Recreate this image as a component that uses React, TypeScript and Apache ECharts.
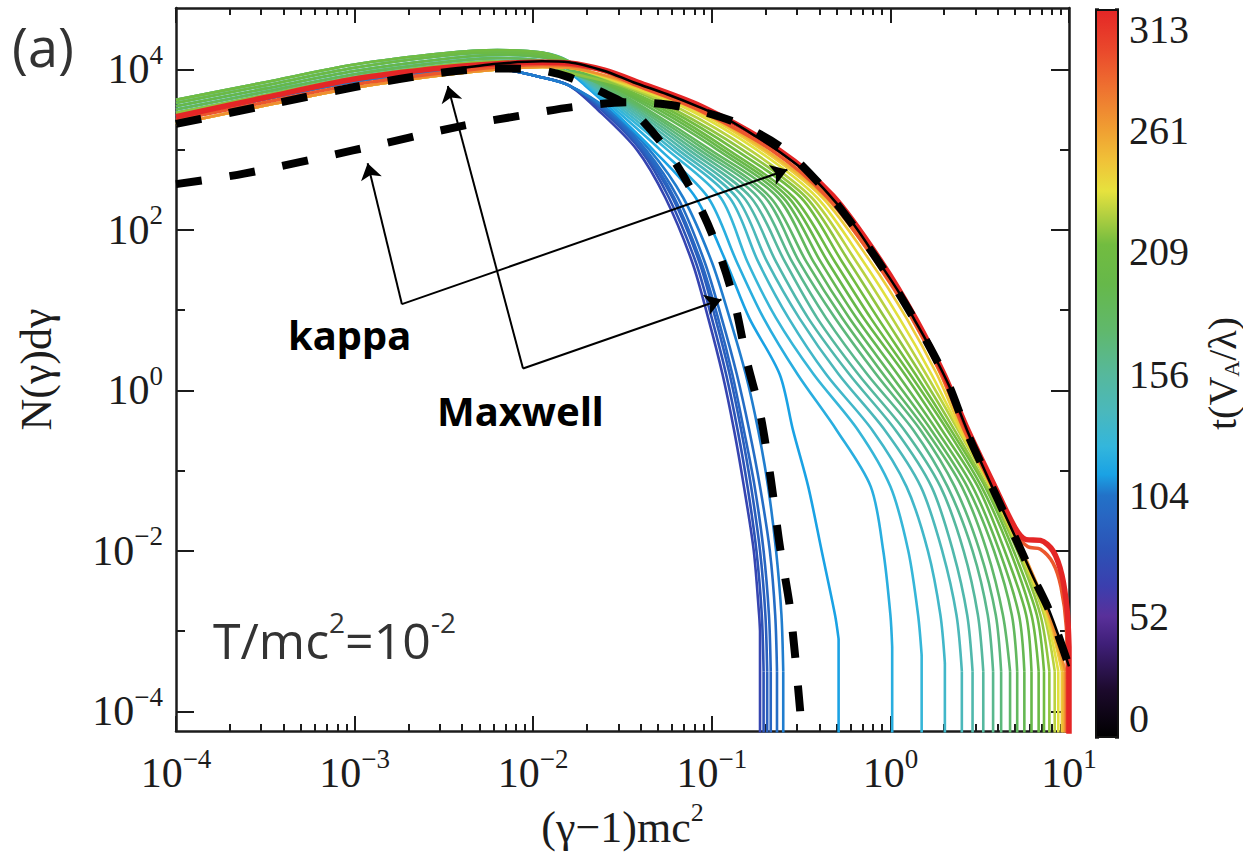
import React, { useEffect, useRef } from "react";
import * as echarts from "echarts";

// ---------- axes ----------
const X_MIN = 1e-4;
const X_MAX = 10;
const Y_MIN = 5.66e-5;
const Y_MAX = 5.82e4;
const X_DECADES = [1e-4, 1e-3, 1e-2, 1e-1, 1, 10];
const Y_LABELED = [1e-4, 1e-2, 1, 1e2, 1e4];
const Y_ODD = [1e-3, 1e-1, 10, 1e3];
const CB_MAX = 313;
const CB_LABELS = [0, 52, 104, 156, 209, 261, 313];
const CB_TICKS = [0, 26, 52, 78, 104, 130, 156, 183, 209, 235, 261, 287, 313];

// colour table of the colour bar: [t, colour]
const CMAP: [number, string][] = [
  [0, "#000000"], [20, "#1c0a2c"], [40, "#3f1f78"], [52, "#59309a"], [65, "#3b3fae"],
  [80, "#2c52b6"], [95, "#2866c2"], [104, "#2272c8"], [113, "#1aa2e4"], [125, "#33b6dc"],
  [140, "#4ab8bc"], [156, "#56b89c"], [175, "#60b86c"], [195, "#66b84a"], [212, "#72bc40"],
  [225, "#b4d040"], [235, "#e6e23e"], [248, "#f0c238"], [261, "#f0a032"], [280, "#ee7030"],
  [295, "#ea4a2c"], [313, "#e42626"],
];

// ---------- data (log10 values) ----------
// low-energy part: log10 x positions and log10 N for each group of curves
const HEAD_LX = [-4, -3.5, -3, -2.5, -2.2, -1.95, -1.8];
const H_BLUE = [3.41, 3.63, 3.85, 3.98, 4.0, 3.9, 3.8];
const H_G1 = [3.46, 3.68, 3.9, 4.05, 4.1, 4.07, 3.96];
const H_G2 = [3.5, 3.72, 3.94, 4.09, 4.14, 4.11, 4.0];
const H_G3 = [3.54, 3.76, 3.98, 4.13, 4.18, 4.15, 4.04];
const H_G4 = [3.58, 3.8, 4.02, 4.17, 4.21, 4.18, 4.07];
const H_G5 = [3.62, 3.84, 4.06, 4.2, 4.24, 4.21, 4.1];
const H_YELLOW = [3.32, 3.55, 3.77, 3.93, 4.0, 4.03, 4.02];
const H_ORANGE = [3.37, 3.59, 3.81, 3.96, 4.03, 4.06, 4.05];
const H_RED = [3.41, 3.65, 3.88, 4.02, 4.07, 4.09, 4.08];

// tail: log10 x of each curve where it crosses these log10 N levels
const LEVELS = [3.8, 3.5, 3.0, 2.4, 1.6, 0.9, 0.2, -0.5, -1.2, -2.0, -2.8, -3.5];
const TAIL_B1 = [null, -1.64, -1.42, -1.26, -1.11, -1.02, -0.94, -0.875, -0.82, -0.765, -0.735, null];
const TAIL_B2 = [null, -1.62, -1.4, -1.24, -1.09, -1.0, -0.92, -0.855, -0.8, -0.75, -0.72, -0.71];
const TAIL_B3 = [null, -1.61, -1.39, -1.22, -1.07, -0.98, -0.9, -0.835, -0.78, -0.73, -0.7, -0.69];
const TAIL_B4 = [null, -1.6, -1.38, -1.21, -1.06, -0.965, -0.885, -0.82, -0.76, -0.71, -0.68, -0.67];
const TAIL_B5 = [null, -1.59, -1.37, -1.19, -1.04, -0.945, -0.86, -0.79, -0.73, -0.675, -0.645, -0.635];
const TAIL_B6 = [null, -1.58, -1.35, -1.16, -1.0, -0.9, -0.81, -0.74, -0.685, -0.64, -0.61, -0.6];
const TAIL_L1 = [-1.71, -1.56, -1.33, -1.09, -0.92, -0.79, -0.62, -0.545, -0.46, -0.385, -0.31, null];
const TAIL_L2 = [-1.7, -1.54, -1.29, -1.02, -0.86, -0.71, -0.52, -0.3, -0.11, -0.04, 0.0, null];
const TAIL_L3 = [-1.69, -1.52, -1.25, -0.95, -0.8, -0.64, -0.43, -0.18, 0.0, 0.1, 0.155, null];
const TAIL_L4 = [-1.68, -1.5, -1.22, -0.9, -0.74, -0.57, -0.36, -0.1, 0.09, 0.21, 0.28, null];
const TAIL_L5 = [-1.67, -1.48, -1.19, -0.86, -0.69, -0.51, -0.29, -0.03, 0.17, 0.29, 0.37, 0.4];
const TAIL_L6 = [-1.66, -1.46, -1.16, -0.82, -0.64, -0.46, -0.23, 0.03, 0.23, 0.35, 0.43, 0.46];
const TAIL_L7 = [-1.65, -1.44, -1.13, -0.78, -0.59, -0.41, -0.18, 0.08, 0.28, 0.41, 0.49, 0.52];
const TAIL_L8 = [-1.63, -1.42, -1.1, -0.74, -0.55, -0.36, -0.13, 0.13, 0.32, 0.46, 0.545, 0.575];
const TAIL_L9 = [-1.62, -1.4, -1.07, -0.7, -0.51, -0.31, -0.08, 0.17, 0.36, 0.5, 0.59, 0.62];
const TAIL_L10 = [-1.61, -1.38, -1.04, -0.67, -0.47, -0.27, -0.04, 0.2, 0.4, 0.54, 0.63, 0.67];
const TAIL_L11 = [-1.6, -1.36, -1.01, -0.63, -0.43, -0.23, 0.0, 0.23, 0.43, 0.58, 0.68, 0.71];
const TAIL_L12 = [-1.58, -1.33, -0.97, -0.6, -0.39, -0.19, 0.04, 0.26, 0.46, 0.61, 0.72, 0.75];
const TAIL_L13 = [-1.57, -1.3, -0.94, -0.57, -0.35, -0.15, 0.08, 0.29, 0.49, 0.64, 0.76, 0.79];
const TAIL_L14 = [-1.55, -1.27, -0.91, -0.54, -0.31, -0.11, 0.11, 0.32, 0.51, 0.67, 0.79, 0.83];
const TAIL_L15 = [-1.53, -1.24, -0.87, -0.5, -0.27, -0.07, 0.14, 0.34, 0.53, 0.69, 0.82, 0.86];
const TAIL_L16 = [-1.51, -1.21, -0.83, -0.47, -0.23, -0.03, 0.17, 0.36, 0.54, 0.71, 0.84, 0.89];
const TAIL_L17 = [-1.49, -1.17, -0.79, -0.44, -0.19, 0.01, 0.2, 0.38, 0.555, 0.72, 0.86, 0.92];
const TAIL_L18 = [-1.47, -1.13, -0.75, -0.41, -0.15, 0.05, 0.23, 0.39, 0.56, 0.73, 0.87, 0.94];
const TAIL_L19 = [-1.45, -1.1, -0.72, -0.38, -0.11, 0.09, 0.26, 0.4, 0.565, 0.73, 0.88, 0.96];
const TAIL_L20 = [-1.43, -1.08, -0.7, -0.36, -0.08, 0.12, 0.28, 0.41, 0.57, 0.735, 0.885, 0.97];
const TAIL_L21 = [-1.41, -1.07, -0.67, -0.34, -0.07, 0.13, 0.29, 0.42, 0.575, 0.74, 0.89, 0.98];
// last point before the vertical drop, [log10 x, log10 N]
const CUT_B1 = [-0.73, -3.0];
const CUT_L1 = [-0.29, -3.1];
const CUT_L2 = [0.01, -3.2];
const CUT_L3 = [0.175, -3.3];
const CUT_L4 = [0.305, -3.4];

// late-time curves with the bump near 10, [log10 x, log10 N]
const ORANGE_TAIL = [
  [-1.6, 3.97], [-1.42, 3.8], [-1.08, 3.5], [-0.67, 3.0], [-0.35, 2.4], [-0.08, 1.6], [0.12, 0.9],
  [0.285, 0.2], [0.415, -0.5], [0.57, -1.2], [0.7, -1.78], [0.77, -1.95], [0.84, -1.98],
  [0.91, -2.15], [0.955, -2.45], [0.985, -2.95], [0.99, -3.6],
];
const RED_TAIL = [
  [-1.6, 3.99], [-1.4, 3.83], [-1.04, 3.52], [-0.62, 2.99], [-0.32, 2.42], [-0.05, 1.6], [0.145, 0.88],
  [0.3, 0.2], [0.435, -0.5], [0.585, -1.2], [0.7, -1.72], [0.76, -1.86], [0.84, -1.87],
  [0.91, -2.0], [0.96, -2.3], [0.99, -2.75], [1.0, -3.2],
];
// thin black envelope
const BLACK_LINE = [
  [-2.45, 4.0], [-2.2, 4.07], [-1.95, 4.1], [-1.8, 4.09], [-1.6, 3.98], [-1.44, 3.84], [-1.25, 3.69],
  [-1.07, 3.53], [-0.9, 3.36], [-0.75, 3.16], [-0.6, 2.94], [-0.45, 2.68], [-0.34, 2.43], [-0.2, 2.05],
  [-0.07, 1.62], [0.054, 1.2], [0.13, 0.9], [0.22, 0.54], [0.33, 0.05], [0.43, -0.5], [0.52, -0.96],
  [0.61, -1.4], [0.7, -1.83], [0.8, -2.33], [0.89, -2.75], [1.0, -3.44],
];
// dashed fits
const MAXWELL = [
  [-4, 3.32], [-3.5, 3.55], [-3, 3.78], [-2.75, 3.88], [-2.47, 3.97], [-2.2, 4.01], [-2.0, 4.0],
  [-1.81, 3.91], [-1.6, 3.7], [-1.47, 3.54], [-1.27, 3.05], [-1.12, 2.52], [-0.99, 1.9], [-0.88, 1.16],
  [-0.8, 0.33], [-0.73, -0.28], [-0.67, -1.1], [-0.62, -1.93], [-0.56, -2.75], [-0.505, -4.0],
];
const KAPPA = [
  [-4, 2.57], [-3.62, 2.7], [-3.01, 2.99], [-2.39, 3.3], [-2.08, 3.42], [-1.78, 3.53], [-1.47, 3.59],
  [-1.19, 3.54], [-0.88, 3.35], [-0.6, 3.01], [-0.34, 2.43], [-0.13, 1.81], [0.05, 1.2], [0.22, 0.54],
  [0.33, 0.05], [0.43, -0.53], [0.61, -1.4], [0.8, -2.33], [0.89, -2.75], [1.0, -3.44],
];
// annotation arrows: [elbow, tip] in log10 coordinates
const KAPPA_ARROWS = [
  [[-2.735, 1.074], [-2.927, 2.83]],
  [[-2.735, 1.074], [-0.577, 2.749]],
];
const MAXWELL_ARROWS = [
  [[-2.057, 0.272], [-2.478, 3.793]],
  [[-2.057, 0.272], [-0.946, 1.132]],
];

type CurveDef = { t: number; head: number[]; tail: (number | null)[]; cut?: number[] };
const CURVES: CurveDef[] = [
  { t: 70, head: H_BLUE, tail: TAIL_B1, cut: CUT_B1 },
  { t: 80, head: H_BLUE, tail: TAIL_B2 },
  { t: 88, head: H_BLUE, tail: TAIL_B3 },
  { t: 95, head: H_BLUE, tail: TAIL_B4 },
  { t: 100, head: H_BLUE, tail: TAIL_B5 },
  { t: 106, head: H_BLUE, tail: TAIL_B6 },
  { t: 113, head: H_G1, tail: TAIL_L1, cut: CUT_L1 },
  { t: 120, head: H_G2, tail: TAIL_L2, cut: CUT_L2 },
  { t: 127, head: H_G3, tail: TAIL_L3, cut: CUT_L3 },
  { t: 134, head: H_G4, tail: TAIL_L4, cut: CUT_L4 },
  { t: 141, head: H_G5, tail: TAIL_L5 },
  { t: 148, head: H_G1, tail: TAIL_L6 },
  { t: 155, head: H_G2, tail: TAIL_L7 },
  { t: 162, head: H_G3, tail: TAIL_L8 },
  { t: 169, head: H_G4, tail: TAIL_L9 },
  { t: 176, head: H_G5, tail: TAIL_L10 },
  { t: 183, head: H_G1, tail: TAIL_L11 },
  { t: 190, head: H_G2, tail: TAIL_L12 },
  { t: 197, head: H_G3, tail: TAIL_L13 },
  { t: 204, head: H_G4, tail: TAIL_L14 },
  { t: 211, head: H_G5, tail: TAIL_L15 },
  { t: 218, head: H_G1, tail: TAIL_L16 },
  { t: 226, head: H_YELLOW, tail: TAIL_L17 },
  { t: 234, head: H_YELLOW, tail: TAIL_L18 },
  { t: 244, head: H_YELLOW, tail: TAIL_L19 },
  { t: 255, head: H_YELLOW, tail: TAIL_L20 },
  { t: 268, head: H_YELLOW, tail: TAIL_L21 },
];

// ---------- helpers ----------
const BELOW_AXIS = -7; // log10 N used for the vertical drop out of the frame
const SMOOTH = 0.3;
const pow = (p: number[]) => [Math.pow(10, p[0]), Math.pow(10, p[1])];

function hexToRgb(h: string) {
  const n = parseInt(h.slice(1), 16);
  return [(n >> 16) & 255, (n >> 8) & 255, n & 255];
}
function cmapColor(t: number) {
  for (let i = 1; i < CMAP.length; i++) {
    const [t0, c0] = CMAP[i - 1];
    const [t1, c1] = CMAP[i];
    if (t <= t1) {
      const f = (t - t0) / (t1 - t0);
      const a = hexToRgb(c0);
      const b = hexToRgb(c1);
      return `rgb(${a.map((v, k) => Math.round(v + (b[k] - v) * f)).join(",")})`;
    }
  }
  return CMAP[CMAP.length - 1][1];
}
// main part of a curve (smoothed) and its vertical drop (straight)
function curvePoints(c: CurveDef) {
  const pts: number[][] = HEAD_LX.map((lx, i) => [lx, c.head[i]]);
  c.tail.forEach((lx, i) => {
    if (lx !== null) pts.push([lx, LEVELS[i]]);
  });
  if (c.cut) pts.push(c.cut);
  return pts;
}
function headPlus(head: number[] | null, pairs: number[][]) {
  const pts: number[][] = head ? HEAD_LX.map((lx, i) => [lx, head[i]]) : [];
  pairs.forEach((p) => pts.push(p));
  return pts;
}
function dropOf(pts: number[][]) {
  const last = pts[pts.length - 1];
  return [last, [last[0], BELOW_AXIS]].map(pow);
}

const AXIS_COLOR = "#1c1c1c";
const SERIF = '"Liberation Serif", "Times New Roman", serif';
const labelRich = {
  b: { fontFamily: SERIF, fontSize: 42, lineHeight: 56, color: AXIS_COLOR },
  s: { fontFamily: SERIF, fontSize: 27, lineHeight: 30, verticalAlign: "top", color: AXIS_COLOR },
};
const powLabel = (v: number) => {
  const e = Math.round(Math.log10(v));
  return `{b|10}{s|${e < 0 ? "\u2212" + -e : e}}`;
};
const X_MINOR = X_DECADES.slice(0, -1).flatMap((d) => [2, 3, 4, 5, 6, 7, 8, 9].map((m) => m * d));

export default function App() {
  const ref = useRef<HTMLDivElement>(null);
  useEffect(() => {
    if (!ref.current) return;
    const chart = echarts.init(ref.current, null, { renderer: "svg" });

    const line = (data: number[][], color: string, width: number, smooth: number | boolean, extra: any = {}) => ({
      type: "line",
      xAxisIndex: 0,
      yAxisIndex: 0,
      data,
      symbol: "none",
      silent: true,
      smooth,
      lineStyle: { color, width, cap: "butt", join: "round", ...(extra.lineStyle || {}) },
      ...(extra.rest || {}),
    });

    const lineSeries: any[] = [];
    CURVES.forEach((c) => {
      const pts = curvePoints(c);
      const col = cmapColor(c.t);
      lineSeries.push(line(pts.map(pow), col, 2.6, SMOOTH));
      lineSeries.push(line(dropOf(pts), col, 2.6, false));
    });
    const orangePts = headPlus(H_ORANGE, ORANGE_TAIL);
    lineSeries.push(line(orangePts.map(pow), cmapColor(290), 3.5, SMOOTH));
    lineSeries.push(line(dropOf(orangePts), cmapColor(290), 3.5, false));
    const redPts = headPlus(H_RED, RED_TAIL);
    lineSeries.push(line(redPts.map(pow), cmapColor(313), 5.5, SMOOTH));
    lineSeries.push(line(dropOf(redPts), cmapColor(313), 5.5, false));
    lineSeries.push(line(BLACK_LINE.map(pow), "#000", 2.5, SMOOTH));
    lineSeries.push(line(MAXWELL.map(pow), "#000", 8, SMOOTH, { lineStyle: { type: [26, 28] } }));
    const arrowData = [...KAPPA_ARROWS, ...MAXWELL_ARROWS].map(([a, b]) => [
      { coord: pow(a), symbol: "none" },
      { coord: pow(b), symbol: "arrow" },
    ]);
    lineSeries.push(
      line(KAPPA.map(pow), "#000", 8, SMOOTH, {
        lineStyle: { type: [26, 28] },
        rest: {
          markLine: {
            silent: true,
            symbol: ["none", "arrow"],
            symbolSize: 16,
            label: { show: false },
            lineStyle: { color: "#000", width: 2, type: "solid" },
            emphasis: { disabled: true },
            data: arrowData,
          },
        },
      })
    );

    const logX = (extra: any) => ({
      type: "log", logBase: 10, min: X_MIN, max: X_MAX, gridIndex: 0,
      splitLine: { show: false }, minorTick: { show: false },
      axisLine: { show: false, onZero: false },
      ...extra,
    });
    const logY = (extra: any) => ({
      type: "log", logBase: 10, min: Y_MIN, max: Y_MAX, gridIndex: 0,
      splitLine: { show: false }, minorTick: { show: false },
      axisLine: { show: false, onZero: false },
      ...extra,
    });
    const frame = { show: true, onZero: false, lineStyle: { color: AXIS_COLOR, width: 2.5 } };
    const tickStyle = { color: AXIS_COLOR, width: 2 };

    const option: any = {
      animation: false,
      backgroundColor: "#fff",
      grid: [
        { left: 176, top: 8, width: 893, height: 730 },
        { left: 1095, top: 9, width: 25, height: 729 },
      ],
      xAxis: [
        logX({
          position: "bottom",
          axisLine: frame,
          axisTick: { show: true, inside: true, length: 15, customValues: X_DECADES, lineStyle: tickStyle },
          axisLabel: { show: true, customValues: X_DECADES, formatter: powLabel, rich: labelRich, margin: 14 },
          name: "(γ\u22121)mc{s|2}",
          nameLocation: "middle",
          nameGap: 60,
          nameTextStyle: {
            fontFamily: SERIF, fontSize: 44, color: AXIS_COLOR, lineHeight: 56,
            rich: { s: { fontFamily: SERIF, fontSize: 26, lineHeight: 30, verticalAlign: "top", color: AXIS_COLOR } },
          },
        }),
        logX({
          position: "bottom",
          axisTick: { show: true, inside: true, length: 7, customValues: X_MINOR, lineStyle: tickStyle },
          axisLabel: { show: false },
        }),
        logX({
          position: "top",
          axisLine: frame,
          axisTick: { show: true, inside: true, length: 15, customValues: X_DECADES, lineStyle: tickStyle },
          axisLabel: { show: false },
        }),
        logX({
          position: "top",
          axisTick: { show: true, inside: true, length: 7, customValues: X_MINOR, lineStyle: tickStyle },
          axisLabel: { show: false },
        }),
        { type: "category", gridIndex: 1, data: ["t"], show: false },
      ],
      yAxis: [
        logY({
          position: "left",
          axisLine: frame,
          axisTick: { show: true, inside: true, length: 18, customValues: Y_LABELED, lineStyle: tickStyle },
          axisLabel: { show: true, customValues: Y_LABELED, formatter: powLabel, rich: labelRich, margin: 13 },
          name: "N(γ)dγ",
          nameLocation: "middle",
          nameRotate: 90,
          nameGap: 118,
          nameTextStyle: { fontFamily: SERIF, fontSize: 44, color: AXIS_COLOR },
        }),
        logY({
          position: "left",
          axisTick: { show: true, inside: true, length: 9, customValues: Y_ODD, lineStyle: tickStyle },
          axisLabel: { show: false },
        }),
        logY({
          position: "right",
          axisLine: frame,
          axisTick: { show: true, inside: true, length: 18, customValues: Y_LABELED, lineStyle: tickStyle },
          axisLabel: { show: false },
        }),
        logY({
          position: "right",
          axisTick: { show: true, inside: true, length: 9, customValues: Y_ODD, lineStyle: tickStyle },
          axisLabel: { show: false },
        }),
        {
          type: "value", gridIndex: 1, min: 0, max: CB_MAX, position: "right",
          axisLine: { show: false },
          splitLine: { show: false },
          axisTick: { show: true, inside: true, length: 4, customValues: CB_TICKS, lineStyle: { color: AXIS_COLOR, width: 1.5 } },
          axisLabel: {
            show: true, customValues: CB_LABELS, margin: 10,
            fontFamily: SERIF, fontSize: 40, color: AXIS_COLOR,
            verticalAlignMaxLabel: "top", verticalAlignMinLabel: "bottom",
          },
          name: "t(V{a|A}/λ)",
          nameLocation: "middle",
          nameRotate: 90,
          nameGap: 83,
          nameTextStyle: {
            fontFamily: SERIF, fontSize: 40, color: AXIS_COLOR,
            rich: { a: { fontFamily: SERIF, fontSize: 22, verticalAlign: "bottom", color: AXIS_COLOR } },
          },
        },
        {
          type: "value", gridIndex: 1, min: 0, max: CB_MAX, position: "left",
          axisLine: { show: false },
          splitLine: { show: false },
          axisTick: { show: true, inside: true, length: 4, customValues: CB_TICKS, lineStyle: { color: AXIS_COLOR, width: 1.5 } },
          axisLabel: { show: false },
        },
      ],
      series: [
        {
          type: "bar", xAxisIndex: 4, yAxisIndex: 4, data: [CB_MAX], barWidth: "100%", silent: true,
          itemStyle: {
            color: new echarts.graphic.LinearGradient(0, 1, 0, 0, CMAP.map(([t, c]) => ({ offset: t / CB_MAX, color: c }))),
            borderColor: "#111", borderWidth: 2,
          },
        },
        ...lineSeries,
      ],
      graphic: [
        {
          type: "text", x: 12, y: 46, silent: true,
          style: { text: "(a)", fontFamily: '"Open Sans", sans-serif', fontSize: 54, fill: "#333", verticalAlign: "middle" },
        },
        {
          type: "text", x: 213, y: 640, silent: true,
          style: {
            text: "T/mc{s|2}=10{s|-2}",
            fontFamily: '"Open Sans", sans-serif', fontSize: 50, fill: "#333", lineHeight: 64, verticalAlign: "middle",
            rich: { s: { fontFamily: '"Open Sans", sans-serif', fontSize: 28, lineHeight: 30, verticalAlign: "top", fill: "#333" } },
          },
        },
        {
          type: "text", x: 288, y: 334, silent: true,
          style: { text: "kappa", fontFamily: '"Noto Sans", sans-serif', fontWeight: "bold", fontSize: 40, fill: "#000", verticalAlign: "middle" },
        },
        {
          type: "text", x: 437, y: 410, silent: true,
          style: { text: "Maxwell", fontFamily: '"Noto Sans", sans-serif', fontWeight: "bold", fontSize: 40, fill: "#000", verticalAlign: "middle" },
        },
      ],
    };
    chart.setOption(option);
    return () => chart.dispose();
  }, []);

  return (
    <div
      ref={ref}
      style={{ position: "fixed", left: 0, top: 0, width: 1243, height: 860, background: "#fff" }}
    />
  );
}
